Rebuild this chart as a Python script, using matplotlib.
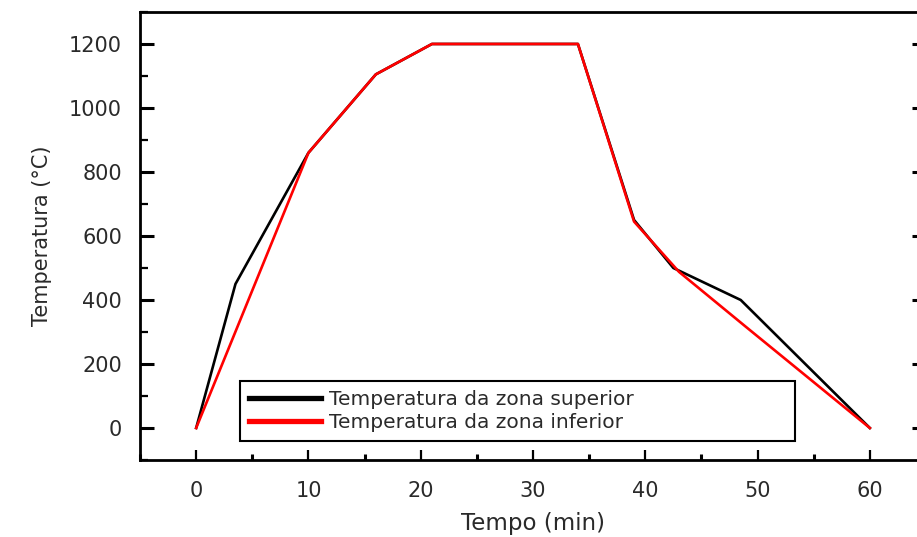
import numpy as np
import matplotlib.pyplot as plt
from matplotlib.ticker import MultipleLocator

# tempo (min) e temperatura (ºC)
t_sup = [0, 3.5, 10, 16, 21, 34, 39, 42.5, 48.5, 60]
temp_sup = [0, 450, 860, 1105, 1200, 1200, 650, 500, 400, 0]

t_inf = [0, 10, 16, 21, 34, 39, 43, 49, 60]
temp_inf = [0, 860, 1105, 1200, 1200, 645, 488, 315, 0]

labels = ['Temperatura da zona superior', 'Temperatura da zona inferior']
colors = ['black', '#ff0000']

plt.rcParams['font.family'] = ['DejaVu Sans']
text_color = '#2a2a2a'

fig = plt.figure(figsize=(9.17, 5.37), dpi=100)
ax1 = fig.add_axes([0.1527, 0.1434, 0.8571, 0.8343])

ax1.plot(t_sup, temp_sup, color=colors[0], lw=1.9, label=labels[0])
ax1.plot(t_inf, temp_inf, color=colors[1], lw=1.9, label=labels[1])

ax1.set_xlim(-5, 65)
ax1.set_ylim(-100, 1300)
ax1.xaxis.set_major_locator(MultipleLocator(10))
ax1.xaxis.set_minor_locator(MultipleLocator(5))
ax1.yaxis.set_major_locator(MultipleLocator(200))
ax1.yaxis.set_minor_locator(MultipleLocator(100))

ax1.tick_params(axis='both', which='both', direction='in', colors='black', labelcolor=text_color,
                labelsize=15)
ax1.tick_params(axis='y', which='major', length=10, width=2.2, pad=13, left=True, right=True)
ax1.tick_params(axis='y', which='minor', length=6, width=1.6, left=True, right=False)
ax1.tick_params(axis='x', which='major', length=7, width=1.6, pad=15, top=False)
ax1.tick_params(axis='x', which='minor', length=4, width=2.2, top=False)

for s in ax1.spines.values():
    s.set_linewidth(2.0)

ax1.set_xlabel('Tempo (min)', fontsize=16.5, color=text_color, labelpad=8)
ax1.set_ylabel('Temperatura (°C)', fontsize=15, color=text_color, labelpad=12)

leg = ax1.legend(loc='lower left', bbox_to_anchor=(0.127, 0.042, 0.706, 0.137), mode='expand',
                 borderaxespad=0, fontsize=14.5, handlelength=3.6, handletextpad=0.4,
                 borderpad=0.45, labelspacing=0.2, fancybox=False, framealpha=1, edgecolor='black')
leg.get_frame().set_linewidth(1.5)
for h in leg.legend_handles:
    h.set_linewidth(3.8)
for t in leg.get_texts():
    t.set_color(text_color)

fig.savefig('out.png', dpi=100)
